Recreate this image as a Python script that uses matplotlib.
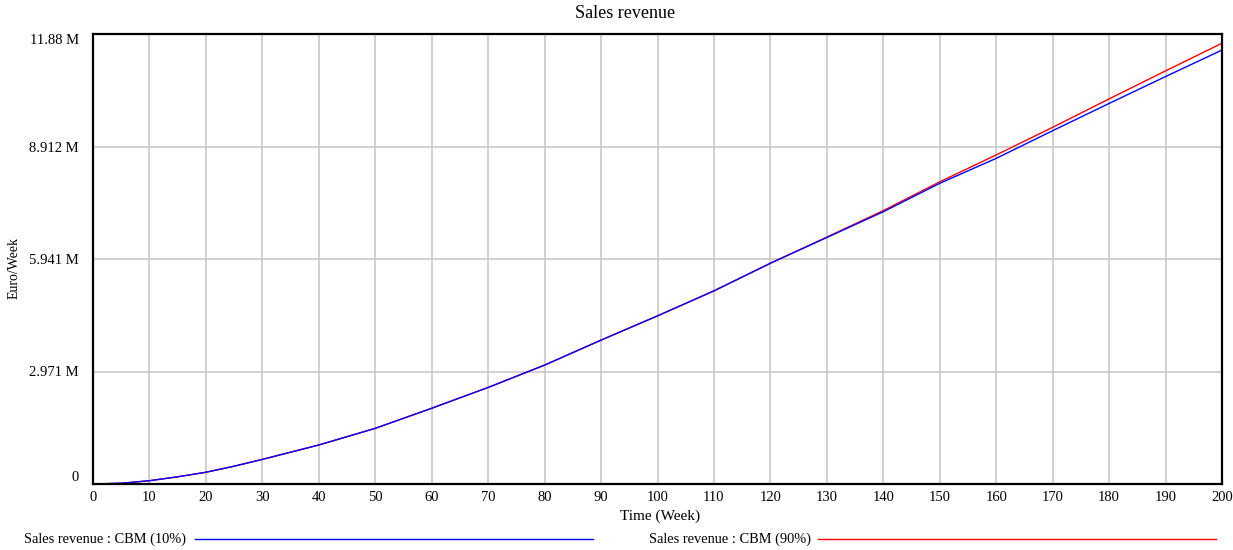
import matplotlib
matplotlib.use("Agg")
import matplotlib.pyplot as plt
from matplotlib.lines import Line2D

plt.rcParams['font.family'] = ['Liberation Serif', 'DejaVu Serif']

# weekly sales revenue, in millions of euro
weeks = [0, 5, 10, 15, 20, 25, 30, 40, 50, 60, 70, 80, 90, 100, 110, 120,
         130, 140, 150, 160, 170, 180, 190, 200]
rev_cbm10 = [0, 0.02, 0.087, 0.19, 0.31, 0.47, 0.65, 1.03, 1.47, 2.00, 2.55,
             3.14, 3.80, 4.44, 5.10, 5.83, 6.51, 7.19, 7.94, 8.60, 9.33,
             10.05, 10.76, 11.46]
rev_cbm90 = [0, 0.02, 0.087, 0.19, 0.31, 0.47, 0.65, 1.03, 1.47, 2.00, 2.55,
             3.14, 3.80, 4.44, 5.10, 5.83, 6.52, 7.22, 7.98, 8.69, 9.42,
             10.17, 10.91, 11.64]

y_ticks = [0, 2.971, 5.941, 8.912, 11.884]
y_labels = ["0", "2.971 M", "5.941 M", "8.912 M", "11.88 M"]
x_ticks = list(range(0, 201, 10))

W, H = 1233, 550
fig = plt.figure(figsize=(W / 100, H / 100), dpi=100)
ax = fig.add_axes([93 / W, 1 - 484 / H, (1222 - 93) / W, (484 - 34) / H])

ax.plot(weeks, rev_cbm90, color="#ff0000", lw=1.0)
ax.plot(weeks, rev_cbm10, color="#0000ff", lw=1.0)

ax.set_xlim(0, 200)
ax.set_ylim(0, 11.884)
ax.set_xticks(x_ticks)
ax.set_xticklabels([str(t) for t in x_ticks], fontsize=10.5)
ax.set_yticks(y_ticks)
ax.set_yticklabels(y_labels, fontsize=10.5)
ax.tick_params(length=0, pad=10)
ax.tick_params(axis='x', pad=5)
labs = ax.get_yticklabels()
labs[0].set_va('bottom')
labs[-1].set_va('top')

ax.grid(True, color="#c8c8c8", lw=1.2)
ax.set_axisbelow(True)
for s in ax.spines.values():
    s.set_color("black")
    s.set_linewidth(1.6)

fig.text(625 / W, 1 - 13 / H, "Sales revenue", ha='center', va='center', fontsize=13)
fig.text(660 / W, 1 - 516 / H, "Time (Week)", ha='center', va='center', fontsize=11)
fig.text(14 / W, 1 - 268 / H, "Euro/Week", ha='center', va='center',
         rotation=90, fontsize=10)

# legend row under the axis
ly = 1 - 539 / H
fig.text(24 / W, ly, "Sales revenue : CBM (10%)", ha='left', va='center', fontsize=10.4)
fig.add_artist(Line2D([195 / W, 593 / W], [ly, ly], color="#0000ff", lw=1.0))
fig.text(649 / W, ly, "Sales revenue : CBM (90%)", ha='left', va='center', fontsize=10.4)
fig.add_artist(Line2D([818 / W, 1216 / W], [ly, ly], color="#ff0000", lw=1.0))

fig.savefig("out.png", dpi=100)
